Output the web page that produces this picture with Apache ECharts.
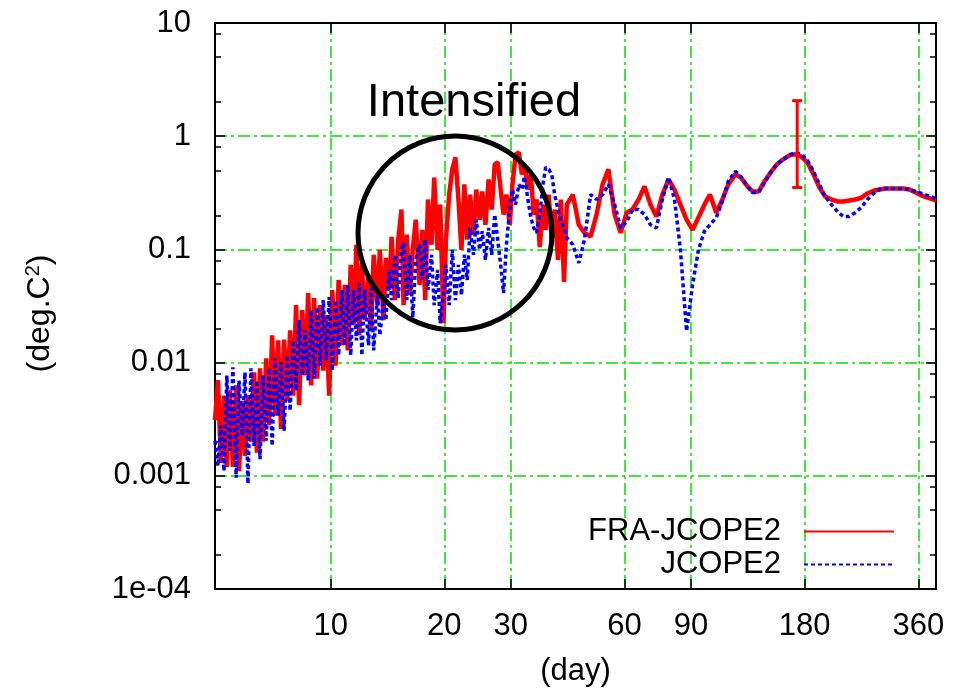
<!DOCTYPE html>
<html>
<head>
<meta charset="utf-8">
<title>FRA-JCOPE2 / JCOPE2 spectrum</title>
<script src="https://cdn.jsdelivr.net/npm/echarts@6/dist/echarts.min.js"></script>
<style>
  html, body { margin: 0; padding: 0; background: #fff; }
  #chart { width: 967px; height: 692px; }
</style>
</head>
<body>
<div id="chart"></div>
<script>
  // period (day) of each spectral estimate, shared by both runs
  var periods = [
    4.94, 5.03, 5.12, 5.22, 5.31, 5.41, 5.51, 5.62, 5.72, 5.83,
    5.93, 6.04, 6.15, 6.27, 6.38, 6.50, 6.62, 6.75, 6.87, 7.00,
    7.12, 7.26, 7.39, 7.53, 7.67, 7.81, 7.96, 8.10, 8.25, 8.41,
    8.56, 8.72, 8.88, 9.04, 9.21, 9.38, 9.56, 9.73, 9.91, 10.1,
    10.3, 10.5, 10.7, 10.9, 11.1, 11.3, 11.5, 11.7, 11.9, 12.1,
    12.3, 12.6, 12.8, 13.0, 13.3, 13.5, 13.8, 14.0, 14.3, 14.5,
    14.8, 15.1, 15.4, 15.6, 15.9, 16.2, 16.5, 16.8, 17.2, 17.5,
    17.8, 18.1, 18.5, 18.8, 19.2, 19.5, 19.9, 20.2, 20.6, 21.0,
    21.4, 21.8, 22.2, 22.6, 23.0, 23.4, 23.9, 24.3, 24.8, 25.2,
    25.7, 26.2, 26.7, 27.2, 27.7, 28.2, 28.7, 29.2, 29.8, 30.3,
    30.9, 31.5, 32.1, 32.6, 33.3, 33.9, 34.5, 35.1, 35.8, 36.5,
    37.1, 37.8, 38.5, 39.2, 40.0, 40.7, 41.5, 42.2,
    43.8, 45.4, 47.0, 48.8, 50.6, 52.5, 54.4, 56.5, 58.6, 60.8,
    63.0, 65.4, 67.8, 70.3, 72.9, 75.6, 78.5, 81.4, 84.4, 87.6,
    90.9, 94.2, 97.7, 101, 105, 109, 113, 118, 122, 127,
    131, 136, 141, 147, 152, 158, 164, 170, 176, 183,
    190, 197, 204, 212, 220, 228, 236, 245, 254, 264,
    274, 284, 294, 305, 317, 329, 341, 354, 367, 381,
    395, 401
  ]

  // FRA-JCOPE2 power (deg.C^2)
  var fraJcope2 = [
    0.0031, 0.0070, 0.0013, 0.0051, 0.0012, 0.0057, 0.0012, 0.0063, 0.0011, 0.0046,
    0.0015, 0.0051, 0.0020, 0.0082, 0.0016, 0.0089, 0.0020, 0.0109, 0.0028, 0.0174,
    0.0034, 0.0157, 0.0026, 0.0160, 0.0046, 0.0193, 0.0051, 0.0322, 0.0042, 0.0291,
    0.0077, 0.0412, 0.0063, 0.0372, 0.0072, 0.0322, 0.0085, 0.0263, 0.0051, 0.0438,
    0.0094, 0.0537, 0.0142, 0.0485, 0.0128, 0.0730, 0.0214, 0.110, 0.0174, 0.077,
    0.0237, 0.0595, 0.0193, 0.0896, 0.0322, 0.0992, 0.0237, 0.0842, 0.0438, 0.129,
    0.0357, 0.122, 0.225, 0.0322, 0.135, 0.0395, 0.0992, 0.183, 0.0485, 0.149,
    0.0357, 0.276, 0.110, 0.432, 0.0992, 0.249, 0.0223, 0.122, 0.305, 0.509,
    0.651, 0.276, 0.0992, 0.375, 0.122, 0.305, 0.135, 0.338, 0.183, 0.325,
    0.165, 0.415, 0.225, 0.564, 0.588, 0.338, 0.203, 0.305, 0.165, 0.375,
    0.692, 0.721, 0.460, 0.564, 0.338, 0.460, 0.203, 0.276, 0.105, 0.249,
    0.149, 0.305, 0.122, 0.225, 0.0808, 0.276, 0.0517, 0.249,
    0.305, 0.165, 0.140, 0.130, 0.203, 0.375, 0.509, 0.203, 0.140, 0.211,
    0.225, 0.276, 0.360, 0.249, 0.195, 0.305, 0.415, 0.338, 0.249, 0.183,
    0.149, 0.191, 0.249, 0.305, 0.211, 0.276, 0.375, 0.460, 0.432, 0.360,
    0.325, 0.325, 0.400, 0.489, 0.564, 0.625, 0.678, 0.692, 0.664, 0.588,
    0.460, 0.352, 0.293, 0.276, 0.265, 0.265, 0.270, 0.276, 0.285, 0.312,
    0.330, 0.338, 0.345, 0.345, 0.345, 0.345, 0.338, 0.318, 0.299, 0.287,
    0.276, 0.270
  ]

  // JCOPE2 power (deg.C^2)
  var jcope2 = [
    0.00204, 0.00122, 0.00277, 0.00110, 0.00769, 0.00166, 0.0091, 0.00096, 0.00695, 0.00226,
    0.0082, 0.00085, 0.0089, 0.00184, 0.00695, 0.0014, 0.00769, 0.00204, 0.0089, 0.00184,
    0.0109, 0.0034, 0.0101, 0.0025, 0.0116, 0.00376, 0.0157, 0.00566, 0.0237, 0.00769,
    0.0193, 0.00695, 0.0291, 0.0072, 0.031, 0.0094, 0.0357, 0.0105, 0.038, 0.0085,
    0.0357, 0.0116, 0.0438, 0.0142, 0.0485, 0.0116, 0.0438, 0.0157, 0.0505, 0.0116,
    0.0438, 0.0142, 0.0456, 0.0128, 0.0395, 0.0174, 0.0357, 0.0237, 0.0659, 0.0357,
    0.0896, 0.0372, 0.0992, 0.1145, 0.0357, 0.0896, 0.025, 0.0808, 0.110, 0.0537,
    0.122, 0.0438, 0.0896, 0.0322, 0.0659, 0.0223, 0.0395, 0.0730, 0.0322, 0.0992,
    0.0357, 0.0730, 0.0395, 0.0896, 0.0537, 0.155, 0.0896, 0.183, 0.0992, 0.145,
    0.0808, 0.155, 0.0896, 0.203, 0.122, 0.073, 0.0412, 0.110, 0.225, 0.338,
    0.249, 0.375, 0.338, 0.44, 0.276, 0.191, 0.155, 0.140, 0.203, 0.375,
    0.531, 0.509, 0.460, 0.305, 0.225, 0.175, 0.155, 0.127,
    0.110, 0.076, 0.122, 0.305, 0.276, 0.305, 0.375, 0.249, 0.155, 0.175,
    0.225, 0.225, 0.203, 0.165, 0.155, 0.276, 0.432, 0.276, 0.0992, 0.019,
    0.049, 0.0992, 0.145, 0.165, 0.191, 0.265, 0.400, 0.489, 0.440, 0.360,
    0.318, 0.318, 0.390, 0.489, 0.564, 0.625, 0.678, 0.721, 0.692, 0.612,
    0.489, 0.375, 0.293, 0.249, 0.215, 0.195, 0.195, 0.211, 0.234, 0.276,
    0.312, 0.338, 0.345, 0.345, 0.345, 0.345, 0.338, 0.325, 0.312, 0.299,
    0.287, 0.280
  ]

  // confidence bar near the annual peak: [period, low, high]
  var errorBar = [[172, 0.352, 2.06]]

  var xTicks = [10, 20, 30, 60, 90, 180, 360]
  var yTicks = [1e-4, 0.001, 0.01, 0.1, 1, 10]
  var yMinorTicks = [2e-4, 5e-4, 8e-4, 0.002, 0.005, 0.008, 0.02, 0.05, 0.08,
    0.2, 0.5, 0.8, 2, 5, 8]
  var yLabelText = { '-4': '1e-04', '-3': '0.001', '-2': '0.01', '-1': '0.1', '0': '1', '1': '10' }

  var FONT = 'Liberation Sans, Arial, sans-serif'
  var gridLine = { show: true, lineStyle: { color: '#00e000', width: 1.5, type: [12, 4, 3, 4] } }
  var frameLine = { show: true, lineStyle: { color: '#000', width: 2 } }

  function pairs(xs, ys) {
    return xs.map(function (x, i) { return [x, ys[i]] })
  }

  // 上下两条 x 轴共用同一刻度范围
  function xAxisBase(extra) {
    return Object.assign({
      type: 'log', logBase: 10, min: 4.94, max: 401,
      axisLine: frameLine,
      axisTick: { show: true, inside: true, length: 10, customValues: xTicks, lineStyle: { color: '#000', width: 1.5 } },
      axisLabel: { show: false },
      splitLine: { show: false }
    }, extra)
  }

  function yAxisBase(extra) {
    return Object.assign({
      type: 'log', logBase: 10, min: 1e-4, max: 10,
      axisLine: { show: false },
      axisTick: { show: true, inside: true, length: 10, customValues: yTicks, lineStyle: { color: '#000', width: 1.5 } },
      axisLabel: { show: false },
      splitLine: { show: false }
    }, extra)
  }

  var dom = echarts.init(document.getElementById('chart'))

  var option = {
    animation: false,
    backgroundColor: '#fff',
    textStyle: { fontFamily: FONT },
    grid: { left: 215, right: 31, top: 23, bottom: 103, containLabel: false },
    legend: {
      data: ['FRA-JCOPE2', 'JCOPE2'],
      orient: 'vertical',
      align: 'right',
      right: 67,
      top: 511,
      itemWidth: 90,
      itemHeight: 4,
      itemGap: 2,
      selectedMode: false,
      itemStyle: { opacity: 0 },
      textStyle: { fontSize: 31, color: '#000', fontFamily: FONT, padding: [0, 18, 0, 0] }
    },
    xAxis: [
      xAxisBase({
        position: 'bottom',
        axisLabel: { show: true, customValues: xTicks, margin: 22, fontSize: 31, color: '#000', fontFamily: FONT },
        splitLine: gridLine,
        name: '(day)',
        nameLocation: 'middle',
        nameGap: 67,
        nameTextStyle: { fontSize: 31, color: '#000', fontFamily: FONT }
      }),
      xAxisBase({ position: 'top' })
    ],
    yAxis: [
      yAxisBase({
        position: 'left',
        axisLine: frameLine,
        axisLabel: {
          show: true, customValues: yTicks, margin: 24, fontSize: 31, color: '#000', fontFamily: FONT,
          formatter: function (v) { return yLabelText[Math.round(Math.log10(v))] }
        },
        splitLine: gridLine,
        name: '(deg.C{sup|2})',
        nameLocation: 'middle',
        nameRotate: 90,
        nameGap: 157,
        nameTextStyle: {
          fontSize: 32, color: '#000', fontFamily: FONT, padding: [0, 15, 0, 0],
          rich: { sup: { fontSize: 20, padding: [0, 0, 15, 0], fontFamily: FONT, color: '#000' } }
        }
      }),
      yAxisBase({ position: 'left', axisTick: { show: true, inside: true, length: 6, customValues: yMinorTicks, lineStyle: { color: '#000', width: 1.5 } } }),
      yAxisBase({ position: 'right', axisLine: frameLine }),
      yAxisBase({ position: 'right', axisTick: { show: true, inside: true, length: 6, customValues: yMinorTicks, lineStyle: { color: '#000', width: 1.5 } } })
    ],
    graphic: [
      {
        type: 'circle', z: 100,
        shape: { cx: 455, cy: 233, r: 97 },
        style: { fill: 'none', stroke: '#000', lineWidth: 5 }
      },
      {
        type: 'text', z: 100, x: 474, y: 103,
        style: { text: 'Intensified', fontSize: 47, fontFamily: FONT, fill: '#000', align: 'center', verticalAlign: 'middle' }
      }
    ],
    series: [
      {
        name: 'FRA-JCOPE2',
        type: 'line',
        data: pairs(periods, fraJcope2),
        symbol: 'none',
        z: 3,
        itemStyle: { color: '#ff0000' },
        lineStyle: { color: '#ff0000', width: 4.5 }
      },
      {
        name: 'JCOPE2',
        type: 'line',
        data: pairs(periods, jcope2),
        symbol: 'none',
        z: 4,
        itemStyle: { color: '#0000ff' },
        lineStyle: { color: '#0000ff', width: 3.5, type: [4, 3] }
      },
      {
        type: 'custom',
        z: 5,
        encode: { x: 0, y: [1, 2] },
        data: errorBar,
        renderItem: function (params, api) {
          var x = api.value(0)
          var lo = api.coord([x, api.value(1)])
          var hi = api.coord([x, api.value(2)])
          var cap = 5
          var st = { stroke: '#ff0000', lineWidth: 3 }
          return {
            type: 'group',
            children: [
              { type: 'line', shape: { x1: lo[0], y1: lo[1], x2: hi[0], y2: hi[1] }, style: st },
              { type: 'line', shape: { x1: lo[0] - cap, y1: lo[1], x2: lo[0] + cap, y2: lo[1] }, style: st },
              { type: 'line', shape: { x1: hi[0] - cap, y1: hi[1], x2: hi[0] + cap, y2: hi[1] }, style: st }
            ]
          }
        }
      }
    ]
  }

  dom.setOption(option)
</script>
</body>
</html>
